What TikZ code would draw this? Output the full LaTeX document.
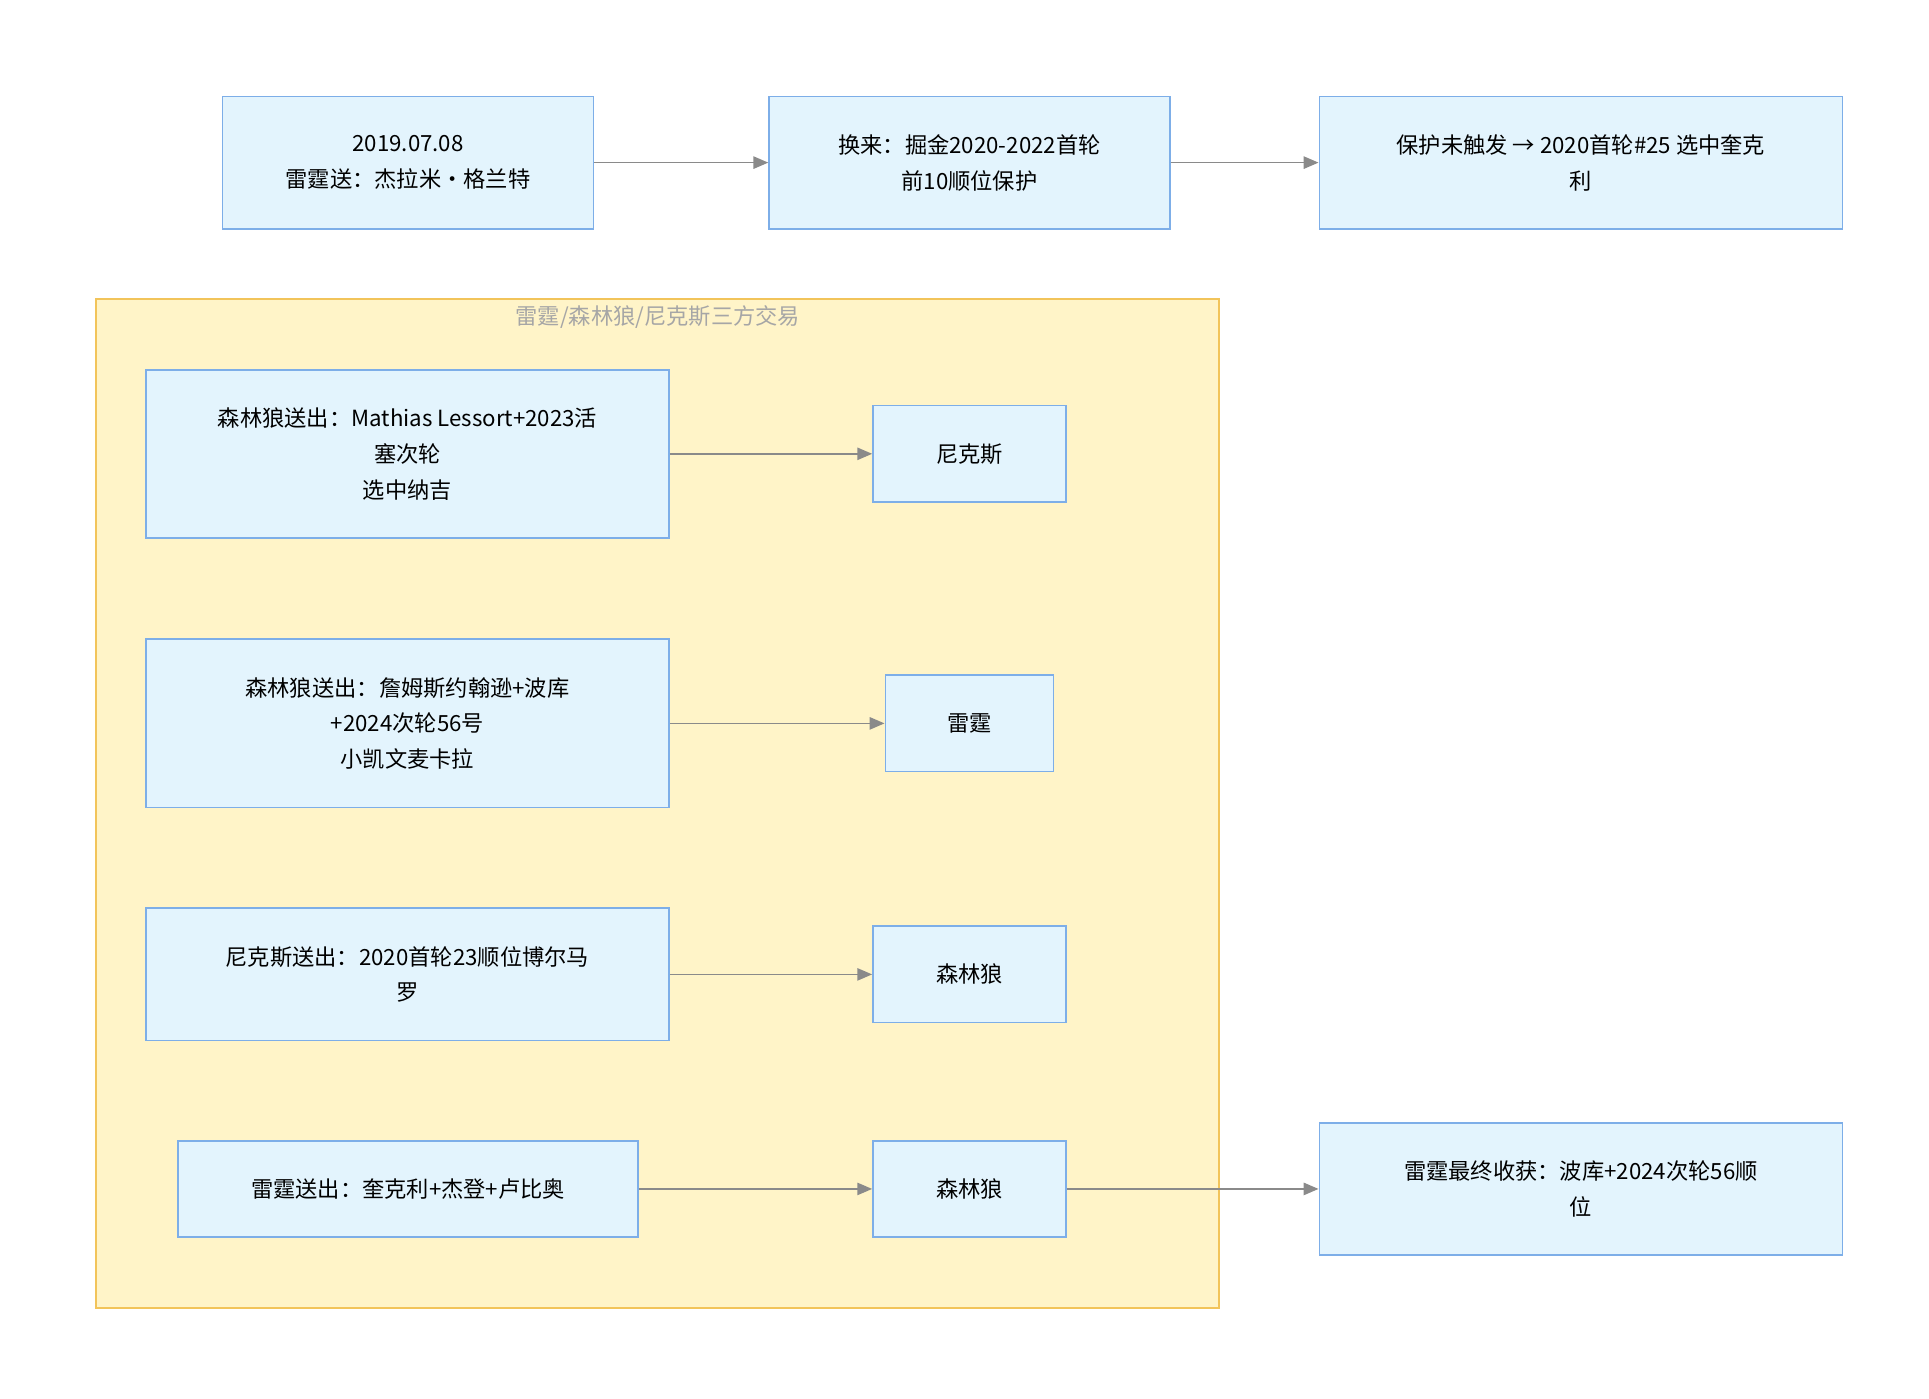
\documentclass[tikz,border=0pt]{standalone}
\usepackage{fontspec}
\setmainfont{Noto Sans CJK SC}
\usetikzlibrary{arrows.meta}
\definecolor{boxfill}{HTML}{E3F4FD}
\definecolor{boxline}{HTML}{7DAEE8}
\definecolor{grpfill}{HTML}{FFF4C8}
\definecolor{grpline}{HTML}{F2C45A}
\definecolor{edgec}{HTML}{8A8A8A}
\tikzset{
  dealbox/.style={draw=boxline,fill=boxfill,line width=0.7pt,align=center,
    font=\fontsize{9}{14.5}\selectfont,inner sep=0pt},
  flow/.style={draw=edgec,line width=0.6pt,-{Triangle[length=6pt,width=5pt]}}
}
\begin{document}
\begin{tikzpicture}[x=0.5pt,y=-0.5pt]
		\useasboundingbox (0,0) rectangle (1560,1131);
		% group
		\draw[grpline,fill=grpfill,line width=0.8pt] (78,242) rectangle (986,1058);
		\node[font=\fontsize{9}{11}\selectfont,text=gray!70] at (532,256) {雷霆/森林狼/尼克斯三方交易};
		% top row
		\node[dealbox,minimum width=150pt,minimum height=53.5pt] (grant) at (330,131.5) {2019.07.08\\雷霆送：杰拉米·格兰特};
		\node[dealbox,minimum width=162pt,minimum height=53.5pt] (pick) at (784,131.5) {换来：掘金2020-2022首轮\\前10顺位保护};
		\node[dealbox,minimum width=211.5pt,minimum height=53.5pt] (quick) at (1278.5,131.5) {保护未触发 → 2020首轮\#25 选中奎克\\利};
		% trade
		\node[dealbox,minimum width=211.5pt,minimum height=68pt] (wolvesA) at (329.5,367) {森林狼送出：Mathias Lessort+2023活\\塞次轮\\选中纳吉};
		\node[dealbox,minimum width=78pt,minimum height=39pt] (knicksA) at (784,367) {尼克斯};
		\node[dealbox,minimum width=211.5pt,minimum height=68pt] (wolvesB) at (329.5,585) {森林狼送出：詹姆斯约翰逊+波库\\+2024次轮56号\\小凯文麦卡拉};
		\node[dealbox,minimum width=68pt,minimum height=39pt] (thunderA) at (784,585) {雷霆};
		\node[dealbox,minimum width=211.5pt,minimum height=53.5pt] (knicksB) at (329.5,788) {尼克斯送出：2020首轮23顺位博尔马\\罗};
		\node[dealbox,minimum width=78pt,minimum height=39pt] (wolvesC) at (784,788) {森林狼};
		\node[dealbox,minimum width=186pt,minimum height=39pt] (thunderB) at (330,961.5) {雷霆送出：奎克利+杰登+卢比奥};
		\node[dealbox,minimum width=78pt,minimum height=39pt] (wolvesD) at (784,961.5) {森林狼};
		\node[dealbox,minimum width=211.5pt,minimum height=53.5pt] (gain) at (1278.5,961.5) {雷霆最终收获：波库+2024次轮56顺\\位};
		% edges
		\draw[flow] (grant) -- (pick);
		\draw[flow] (pick) -- (quick);
		\draw[flow] (wolvesA) -- (knicksA);
		\draw[flow] (wolvesB) -- (thunderA);
		\draw[flow] (knicksB) -- (wolvesC);
		\draw[flow] (thunderB) -- (wolvesD);
		\draw[flow] (wolvesD) -- (gain);
\end{tikzpicture}
\end{document}
